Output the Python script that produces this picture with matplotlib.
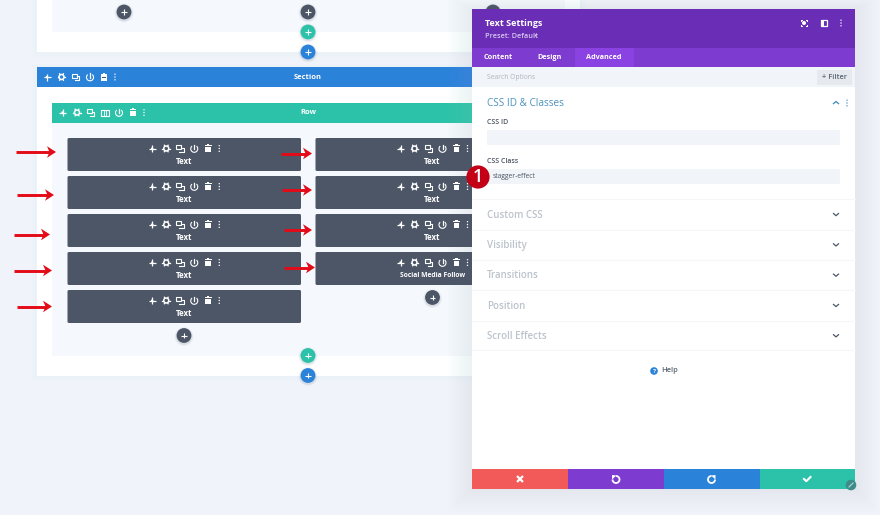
import matplotlib
matplotlib.use("Agg")
import matplotlib.pyplot as plt
import numpy as np
from matplotlib.patches import Rectangle, Circle, Arc, FancyBboxPatch, Polygon

plt.rcParams['font.family'] = ['Open Sans', 'DejaVu Sans']

# content of the screenshot
tab_labels = ["Content", "Design", "Advanced"]
closed_sections = ["Custom CSS", "Visibility", "Transitions", "Position", "Scroll Effects"]
left_modules = ["Text", "Text", "Text", "Text", "Text"]
right_modules = ["Text", "Text", "Text", "Social Media Follow"]
arrow_tails = [16, 17, 14, 14, 17, 281, 282, 284, 284]
arrow_tips = [56, 54, 50, 52, 52, 312, 312, 312, 315]
arrow_rows = [152, 195, 234.5, 270.5, 306.5, 153.5, 190, 230, 267.5]

PAGE = '#f0f4fa'
SOFT = '#f5f8fc'
DARK = '#4c5666'
BLUE = '#2b82d9'
TEAL = '#2cc2a9'
PURPLE = '#6a2db5'
PURPLE2 = '#7e3bd0'
RED = '#f25a5a'
W = 'white'

fig = plt.figure(figsize=(8.8, 5.15), dpi=100, facecolor=PAGE)
ax = fig.add_axes([0, 0, 1, 1])
ax.set_xlim(0, 880)
ax.set_ylim(515, 0)
ax.axis('off')


def box(x0, y0, x1, y1, color, z=1):
    ax.add_patch(Rectangle((x0, y0), x1 - x0, y1 - y0, fc=color, ec='none', zorder=z))


def shadow(x0, y0, x1, y1, spread=14, alpha=0.012, color='#9cc4ee', z=1):
    for s in range(spread, 0, -2):
        box(x0 - s, y0 - s * 0.5, x1 + s, y1 + s, (*matplotlib.colors.to_rgb(color), alpha), z)


def move_icon(x, y, z):
    ax.plot([x - 3.5, x + 3.5], [y, y], color=W, lw=0.9, zorder=z, solid_capstyle='butt')
    ax.plot([x, x], [y - 3.5, y + 3.5], color=W, lw=0.9, zorder=z, solid_capstyle='butt')
    ax.add_patch(Circle((x, y), 1.2, fc=W, ec='none', zorder=z))


def gear_icon(x, y, z):
    ax.add_patch(Circle((x, y), 2.5, fc='none', ec=W, lw=1.1, zorder=z))
    for a in np.arange(0, 360, 60):
        r = np.radians(a)
        ax.plot([x + 2.8 * np.cos(r), x + 3.8 * np.cos(r)], [y + 2.8 * np.sin(r), y + 3.8 * np.sin(r)],
                color=W, lw=0.9, zorder=z)


def copy_icon(x, y, z):
    ax.add_patch(Rectangle((x - 3.8, y - 3.3), 5, 4, fc='none', ec=W, lw=0.8, zorder=z))
    ax.plot([x + 1.2, x + 3.4, x + 3.4, x - 1], [y - 1, y - 1, y + 3, y + 3], color=W, lw=0.8, zorder=z)


def power_icon(x, y, z):
    ax.add_patch(Arc((x, y + 0.3), 7, 7, theta1=-50, theta2=230, ec=W, lw=0.8, zorder=z))
    ax.plot([x, x], [y - 3.8, y + 0.5], color=W, lw=0.9, zorder=z)


def trash_icon(x, y, z):
    box(x - 2.8, y - 1.8, x + 2.8, y + 3.8, W, z)
    box(x - 3.4, y - 3.2, x + 3.4, y - 2.4, W, z)
    box(x - 1.2, y - 4.2, x + 1.2, y - 3, W, z)
    box(x - 2, y, x + 2, y + 0.5, DARK, z + 0.1)


def dots_icon(x, y, z, color=W):
    for d in (-2.8, 0, 2.8):
        ax.add_patch(Circle((x, y + d), 0.7, fc=color, ec='none', zorder=z))


def columns_icon(x, y, z):
    ax.add_patch(Rectangle((x - 3.8, y - 3), 7.6, 6, fc='none', ec=W, lw=0.8, zorder=z))
    box(x - 3.8, y - 3, x + 3.8, y - 1.5, W, z)
    ax.plot([x - 1.2, x - 1.2], [y - 3, y + 3], color=W, lw=0.6, zorder=z)
    ax.plot([x + 1.2, x + 1.2], [y - 3, y + 3], color=W, lw=0.6, zorder=z)


def toolbar(xs, y, z=4, with_columns=False):
    drawers = [move_icon, gear_icon, copy_icon]
    if with_columns:
        drawers.append(columns_icon)
    drawers += [power_icon, trash_icon, dots_icon]
    for x, fn in zip(xs, drawers):
        fn(x, y, z)


def add_button(x, y, color, z=5):
    for s, a in ((9.6, 0.03), (8.8, 0.05), (8.1, 0.07)):
        ax.add_patch(Circle((x, y + 1), s, fc=(0.2, 0.3, 0.4, a), ec='none', zorder=z))
    ax.add_patch(Circle((x, y), 7.4, fc=color, ec='none', zorder=z))
    ax.plot([x - 2.7, x + 2.7], [y, y], color=W, lw=0.8, zorder=z + 0.1, solid_capstyle='butt')
    ax.plot([x, x], [y - 2.7, y + 2.7], color=W, lw=0.8, zorder=z + 0.1, solid_capstyle='butt')


def module(x0, x1, top, label):
    ax.add_patch(FancyBboxPatch((x0 + 1, top + 1), x1 - x0 - 2, 31, boxstyle='round,pad=1,rounding_size=1.5',
                                fc=DARK, ec='none', zorder=3))
    c = (x0 + x1) / 2 if x1 < 400 else 432.5
    toolbar([c + d for d in (-32, -18, -4, 10, 24, 35)], top + 10.5)
    size = 4.85 if len(label) > 10 else 5.7
    ax.text(c, top + 23.4, label, color=W, fontsize=size, fontweight='bold', ha='center', va='center', zorder=4)


# builder, behind the panel
shadow(37, 0, 580, 52, spread=6, alpha=0.02)
box(37, 0, 580, 52, W)
box(52, 0, 565, 32, SOFT, 1.5)
add_button(124, 12, DARK)
add_button(308, 12, DARK)
add_button(493, 12, DARK)
add_button(308, 32, TEAL)
add_button(308, 52, BLUE)

shadow(37, 67, 580, 376, spread=6, alpha=0.02)
box(37, 67, 580, 376, W)
box(37, 67, 580, 87, BLUE, 2)
ax.text(308, 77.6, "Section", color=W, fontsize=5.4, fontweight='bold', ha='center', va='center', zorder=4)
toolbar([47, 61.5, 76, 90, 104, 115], 77)

box(52, 122, 580, 356, SOFT, 1.5)
box(52, 102.5, 580, 122.5, TEAL, 2)
ax.text(308, 113, "Row", color=W, fontsize=5.4, fontweight='bold', ha='center', va='center', zorder=4)
toolbar([62.5, 77, 91, 105, 119, 133, 144], 112.5, with_columns=True)

for i, label in enumerate(left_modules):
    module(67.5, 301, 138 + i * 38, label)
for i, label in enumerate(right_modules):
    module(315.5, 560, 138 + i * 38, label)

add_button(184, 335.5, DARK)
add_button(432.5, 297.5, DARK)
add_button(308, 355.5, TEAL)
add_button(308, 375.5, BLUE)

for tail, tip, y in zip(arrow_tails, arrow_tips, arrow_rows):
    ax.plot([tail, tip - 6], [y, y], color='#e30b17', lw=2.1, solid_capstyle='butt', zorder=6)
    ax.add_patch(Polygon([[tip, y], [tip - 9, y - 5.8], [tip - 6.5, y], [tip - 9, y + 5.8]],
                         fc='#e30b17', ec='none', zorder=6))

# settings panel, shadow stays under the dark modules
shadow(472, 9, 855, 489, spread=24, z=2.5)
box(472, 9, 855, 489, W, 8)
box(472, 9, 855, 47.5, PURPLE, 9)
box(472, 47.5, 855, 67, PURPLE2, 9)
box(575, 47.5, 634, 67, '#8a43e2', 9.5)
box(472, 67, 855, 87, '#f1f5f9', 9)
box(817, 70, 852, 84.5, '#e6eaef', 9.5)

ax.text(485, 23.8, "Text Settings", color=W, fontsize=6.5, fontweight='bold', va='center', zorder=10)
ax.text(485, 36, "Preset: Default", color='#d8c6f0', fontsize=5.3, fontweight='semibold', va='center', zorder=10)
ax.add_patch(Polygon([[534.3, 35], [537, 35], [535.6, 36.6]], fc='#d8c6f0', ec='none', zorder=10))
for label, c in zip(tab_labels, (498.5, 549.5, 604)):
    ax.text(c, 57.4, label, color=W, fontsize=5.2, fontweight='bold', ha='center', va='center', zorder=10)

# header icons
ax.add_patch(Circle((804, 23), 2, fc=W, ec='none', zorder=10))
for sx, sy in ((-1, -1), (1, -1), (-1, 1), (1, 1)):
    ax.plot([804 + sx * 3.4, 804 + sx * 2.4], [23 + sy * 3, 23 + sy * 3], color=W, lw=0.7, zorder=10)
    ax.plot([804 + sx * 3.4, 804 + sx * 3.4], [23 + sy * 3, 23 + sy * 2], color=W, lw=0.7, zorder=10)
ax.add_patch(Rectangle((821, 20), 6, 6, fc='none', ec=W, lw=0.9, zorder=10))
box(821, 20, 823.5, 26, W, 10)
dots_icon(841, 23, 10)

ax.text(487, 77.5, "Search Options", color='#adb5bd', fontsize=4.9, va='center', zorder=10)
ax.text(835, 77.6, "+ Filter", color='#5c6672', fontsize=5.4, fontweight='semibold', ha='center', va='center', zorder=10)

ax.text(487, 103.2, "CSS ID & Classes", color='#4c93bd', fontsize=7.2, va='center', zorder=10)
ax.plot([833.5, 836, 838.5], [103.6, 101.5, 103.6], color='#4c93bd', lw=1, zorder=10)
dots_icon(847, 103, 10, '#4c93bd')
ax.text(487, 123, "CSS ID", color='#4c5666', fontsize=5, fontweight='semibold', va='center', zorder=10)
box(487, 130, 840, 145, '#f1f5f9', 9)
ax.text(487, 161.7, "CSS Class", color='#4c5666', fontsize=5, fontweight='semibold', va='center', zorder=10)
box(487, 169, 840, 184, '#f1f5f9', 9)
ax.text(492.5, 176.8, "stagger-effect", color='#4c5666', fontsize=4.9, va='center', zorder=10)

for i, label in enumerate(closed_sections):
    y = 214.5 + i * 30.3
    ax.plot([472, 855], [y - 15.2, y - 15.2], color='#f4f6f9', lw=0.8, zorder=9)
    ax.text(487, y + 0.9, label, color='#bcc3cc', fontsize=7, fontweight='semibold', va='center', zorder=10)
    ax.plot([833.5, 836, 838.5], [y - 1, y + 1.2, y - 1], color='#4c5666', lw=0.9, zorder=10)
ax.plot([472, 855], [350.3, 350.3], color='#f4f6f9', lw=0.8, zorder=9)

ax.add_patch(Circle((654, 371), 3.8, fc=BLUE, ec='none', zorder=10))
ax.text(654, 371.2, "?", color=W, fontsize=4.5, fontweight='bold', ha='center', va='center', zorder=11)
ax.text(661, 371, "Help", color='#5c6672', fontsize=5.4, fontweight='semibold', va='center', zorder=10)

# footer buttons
box(472, 469, 568, 489, RED, 9)
box(568, 469, 663.5, 489, PURPLE2, 9)
box(663.5, 469, 759.5, 489, BLUE, 9)
box(759.5, 469, 855, 489, TEAL, 9)
ax.plot([517.8, 522.2], [476.8, 481.2], color=W, lw=1.6, zorder=10)
ax.plot([522.2, 517.8], [476.8, 481.2], color=W, lw=1.6, zorder=10)
ax.add_patch(Arc((616, 479.5), 7, 7, theta1=270, theta2=540, ec=W, lw=1.3, zorder=10))
ax.add_patch(Polygon([[612, 475], [612, 479.5], [616.5, 475.5]], fc=W, ec='none', zorder=10))
ax.add_patch(Arc((711.5, 479.5), 7, 7, theta1=0, theta2=270, ec=W, lw=1.3, zorder=10))
ax.add_patch(Polygon([[715.5, 475], [715.5, 479.5], [711, 475.5]], fc=W, ec='none', zorder=10))
ax.plot([804, 806.3, 810.5], [479, 481.2, 477], color=W, lw=1.5, zorder=10)

ax.add_patch(Circle((851, 485), 5.3, fc='#3e8c8a', ec='none', zorder=11))
ax.plot([849, 853], [487, 483], color='#b5d8d6', lw=0.8, zorder=12)

# step badge
ax.add_patch(Circle((478, 177), 11.6, fc='#c40016', ec='none', zorder=12))
ax.text(478, 177.3, "1", color=W, fontsize=13, fontweight='semibold', ha='center', va='center', zorder=13)

fig.savefig('out.png', dpi=100, facecolor=PAGE)
